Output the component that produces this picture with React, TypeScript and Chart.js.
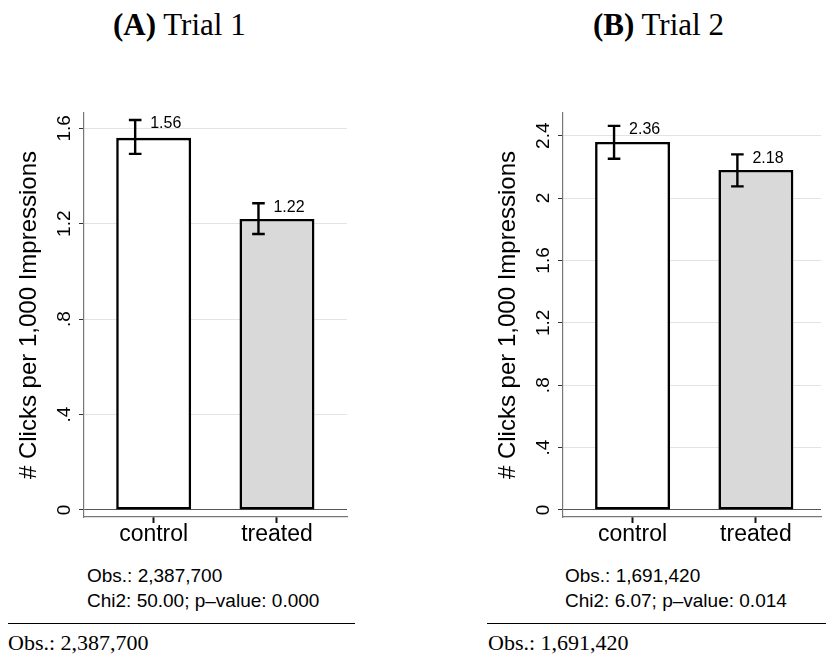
import React, { useEffect, useRef } from "react";
import { Chart, registerables } from "chart.js";

Chart.register(...registerables);

const SANS = "'Liberation Sans', Arial, Helvetica, sans-serif";
const SERIF = "'Liberation Serif', 'Times New Roman', Times, serif";

// ---- data ----
const CATEGORIES = ["control", "treated"];
const X_POS = [1, 2];

const A_MEANS = [1.56, 1.22];
const A_LO = [1.493, 1.157];
const A_HI = [1.635, 1.286];
const A_Y_TICKS = [0, 0.4, 0.8, 1.2, 1.6];
const A_Y_TICK_LABELS = ["0", ".4", ".8", "1.2", "1.6"];
const A_OBS = "Obs.: 2,387,700";
const A_CHI = "Chi2: 50.00; p\u2013value: 0.000";

const B_MEANS = [2.36, 2.18];
const B_LO = [2.252, 2.075];
const B_HI = [2.463, 2.28];
const B_Y_TICKS = [0, 0.4, 0.8, 1.2, 1.6, 2.0, 2.4];
const B_Y_TICK_LABELS = ["0", ".4", ".8", "1.2", "1.6", "2", "2.4"];
const B_OBS = "Obs.: 1,691,420";
const B_CHI = "Chi2: 6.07; p\u2013value: 0.014";

const Y_TITLE = "# Clicks per 1,000 Impressions";
const BAR_COLORS = ["#ffffff", "#d9d9d9"];

// ---- styles ----
const ERR_OFFSET = 0.15;
const CAP = 6.3;

const errPlugin = {
  id: "errbars",
  afterDatasetsDraw(chart: any, _args: any, opts: any) {
    const { ctx } = chart;
    const x = chart.scales.x;
    const y = chart.scales.y;
    const { lo, hi, means } = opts;
    ctx.save();
    ctx.strokeStyle = "#000";
    ctx.lineWidth = 2.4;
    X_POS.forEach((xv: number, i: number) => {
      const px = x.getPixelForValue(xv - ERR_OFFSET);
      const pLo = y.getPixelForValue(lo[i]);
      const pHi = y.getPixelForValue(hi[i]);
      ctx.beginPath();
      ctx.moveTo(px, pLo);
      ctx.lineTo(px, pHi);
      ctx.moveTo(px - CAP, pLo);
      ctx.lineTo(px + CAP, pLo);
      ctx.moveTo(px - CAP, pHi);
      ctx.lineTo(px + CAP, pHi);
      ctx.stroke();
      ctx.font = `16px ${SANS}`;
      ctx.fillStyle = "#000";
      ctx.textBaseline = "middle";
      ctx.textAlign = "left";
      ctx.fillText(means[i].toFixed(2), px + 15, pHi + 4);
    });
    ctx.restore();
  },
};

type PanelProps = {
  means: number[];
  lo: number[];
  hi: number[];
  yTicks: number[];
  yTickLabels: string[];
  yMin: number;
  yMax: number;
  xMin: number;
  xMax: number;
  padLeft: number;
  padRight: number;
  left: number;
};

function Panel(p: PanelProps) {
  const ref = useRef<HTMLCanvasElement | null>(null);
  useEffect(() => {
    if (!ref.current) return;
    Chart.defaults.font.family = SANS;
    const chart = new Chart(ref.current, {
      type: "bar",
      data: {
        datasets: [
          {
            data: X_POS.map((xv, i) => ({ x: xv, y: p.means[i] })) as any,
            backgroundColor: BAR_COLORS,
            borderColor: "#000",
            borderWidth: 2.6,
            borderSkipped: false,
            barPercentage: 0.608,
            categoryPercentage: 1,
          },
        ],
      },
      options: {
        responsive: false,
        animation: false,
        layout: { padding: { left: p.padLeft, right: p.padRight, top: 13, bottom: 0 } },
        plugins: {
          legend: { display: false },
          tooltip: { enabled: false },
          errbars: { lo: p.lo, hi: p.hi, means: p.means },
        } as any,
        scales: {
          x: {
            type: "linear",
            min: p.xMin,
            max: p.xMax,
            offset: false,
            afterBuildTicks: (ax: any) => {
              ax.ticks = X_POS.map((v) => ({ value: v }));
            },
            afterFit: (ax: any) => {
              ax.height = 43;
            },
            ticks: {
              callback: (v: any) => {
                const i = X_POS.indexOf(Number(v));
                return i >= 0 ? CATEGORIES[i] : "";
              },
              autoSkip: false,
              maxRotation: 0,
              minRotation: 0,
              padding: -2,
              color: "#000",
              font: { size: 23, family: SANS },
            },
            grid: {
              offset: false,
              drawOnChartArea: false,
              drawTicks: true,
              tickLength: 6,
              tickColor: "#111",
              tickWidth: 2,
            },
            border: { display: true, color: "#777", width: 1.2 },
          },
          y: {
            type: "linear",
            min: p.yMin,
            max: p.yMax,
            afterBuildTicks: (ax: any) => {
              ax.ticks = p.yTicks.map((v) => ({ value: v }));
            },
            afterFit: (ax: any) => {
              ax.width = 84;
            },
            ticks: {
              callback: (v: any) => {
                const i = p.yTicks.findIndex((t) => Math.abs(t - Number(v)) < 1e-9);
                return i >= 0 ? p.yTickLabels[i] : "";
              },
              autoSkip: false,
              minRotation: 90,
              maxRotation: 90,
              crossAlign: "center",
              padding: 1,
              color: "#000",
              font: { size: 19, family: SANS },
            },
            grid: {
              color: (c: any) => (c.tick && c.tick.value === 0 ? "#555" : "#e3e3e3"),
              lineWidth: 1,
              tickColor: "#333",
              tickLength: 5,
              tickWidth: 1,
            },
            border: { display: true, color: "#777", width: 1.2 },
            title: {
              display: true,
              text: Y_TITLE,
              color: "#000",
              font: { size: 24, family: SANS },
              padding: { top: 14.6, bottom: 0 },
            },
          },
        },
      },
      plugins: [errPlugin],
    });
    return () => chart.destroy();
  }, []);
  return (
    <canvas
      ref={ref}
      width={413}
      height={460}
      style={{ position: "absolute", left: p.left, top: 100, width: 413, height: 460 }}
    />
  );
}

const statStyle: React.CSSProperties = {
  position: "absolute",
  top: 562.6,
  fontFamily: SANS,
  fontSize: 19,
  lineHeight: "25px",
  color: "#000",
  whiteSpace: "nowrap",
};

const footStyle: React.CSSProperties = {
  position: "absolute",
  top: 629.6,
  fontFamily: SERIF,
  fontSize: 22,
  lineHeight: "26px",
  color: "#000",
  whiteSpace: "nowrap",
};

const titleStyle: React.CSSProperties = {
  position: "absolute",
  top: 6.5,
  fontFamily: SERIF,
  fontSize: 31,
  lineHeight: "36px",
  color: "#000",
  whiteSpace: "nowrap",
};

export default function App() {
  return (
    <div
      style={{
        position: "absolute",
        left: 0,
        top: 0,
        width: 826,
        height: 657,
        background: "#fff",
        overflow: "hidden",
      }}
    >
      <div style={{ ...titleStyle, left: 113 }}>
        <b>(A)</b> Trial 1
      </div>
      <div style={{ ...titleStyle, left: 593 }}>
        <b>(B)</b> Trial 2
      </div>

      <Panel
        means={A_MEANS}
        lo={A_LO}
        hi={A_HI}
        yTicks={A_Y_TICKS}
        yTickLabels={A_Y_TICK_LABELS}
        yMin={-0.0294}
        yMax={1.6642}
        xMin={0.435}
        xMax={2.568}
        padLeft={0}
        padRight={66}
        left={0}
      />
      <Panel
        means={B_MEANS}
        lo={B_LO}
        hi={B_HI}
        yTicks={B_Y_TICKS}
        yTickLabels={B_Y_TICK_LABELS}
        yMin={-0.0449}
        yMax={2.5455}
        xMin={0.436}
        xMax={2.528}
        padLeft={66}
        padRight={5}
        left={413}
      />

      <div style={{ ...statStyle, left: 87 }}>
        {A_OBS}
        <br />
        {A_CHI}
      </div>
      <div style={{ ...statStyle, left: 565 }}>
        {B_OBS}
        <br />
        {B_CHI}
      </div>

      <div style={{ position: "absolute", left: 8, top: 622.8, width: 347, height: 0, borderTop: "1.2px solid #000" }} />
      <div style={{ position: "absolute", left: 487, top: 622.8, width: 339, height: 0, borderTop: "1.2px solid #000" }} />

      <div style={{ ...footStyle, left: 8 }}>{A_OBS}</div>
      <div style={{ ...footStyle, left: 488 }}>{B_OBS}</div>
    </div>
  );
}
